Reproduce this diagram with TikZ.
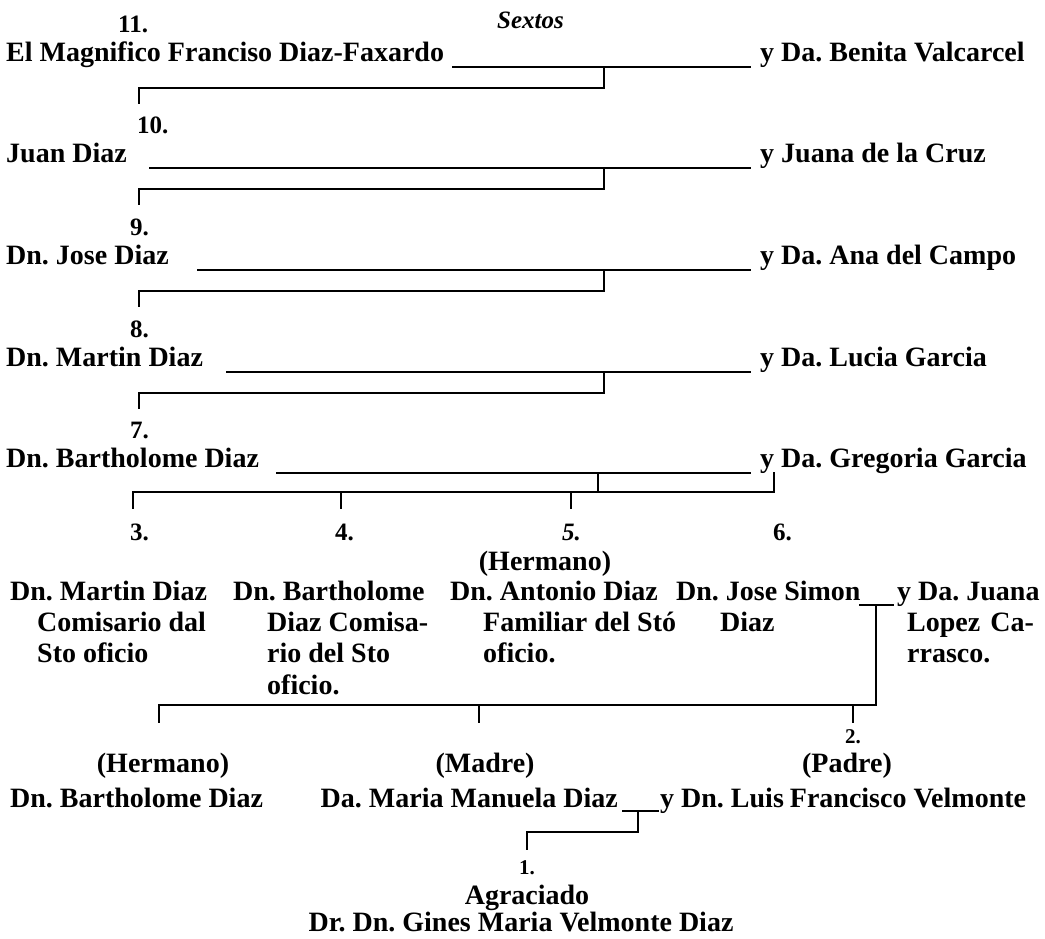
\documentclass[tikz,border=0pt]{standalone}
\usepackage{fontspec}
\setmainfont{Liberation Serif}
\frenchspacing

\tikzset{
  person/.style={inner sep=0pt, anchor=base west, font=\fontsize{28}{32}\selectfont\bfseries},
  genno/.style={inner sep=0pt, anchor=base west, font=\fontsize{25}{29}\selectfont\bfseries},
  smallno/.style={inner sep=0pt, anchor=base, font=\fontsize{21}{25}\selectfont\bfseries},
  link/.style={line width=1.6pt, line cap=rect},
}

\begin{document}
\begin{tikzpicture}[x=1pt, y=-1pt]
    \useasboundingbox (0,0) rectangle (1045,938);

    % Heading
    \node[genno, font=\fontsize{25}{29}\selectfont\bfseries\itshape] (sextos) at (497,28) {Sextos};

    % Generations 11 to 7 (husband ____ y wife)
    \foreach \g/\yy/\nx/\husb/\ux/\wife in {
        11/61/118/El Magnifico Franciso Diaz-Faxardo/453/y Da. Benita Valcarcel,
        10/162/137/Juan Diaz/150/y Juana de la Cruz,
        9/264/130/Dn. Jose Diaz/198/y Da. Ana del Campo,
        8/366/130/Dn. Martin Diaz/227/y Da. Lucia Garcia,
        7/467/130/Dn. Bartholome Diaz/277/y Da. Gregoria Garcia} {
        \node[genno] (n\g) at (\nx,\yy-29) {\g.};
        \node[person] (h\g) at (6,\yy) {\husb};
        \node[person] (w\g) at (760,\yy) {\wife};
        \coordinate (ua\g) at (\ux,\yy+6);
        \coordinate (ub\g) at (750,\yy+6);
        \draw[link] (ua\g) -- (ub\g);
    }

    % Descent brackets 11 -> 8
    \foreach \g/\yy in {11/61, 10/162, 9/264, 8/366} {
        \coordinate (m\g) at (604,\yy+6);
        \coordinate (k\g) at (139,\yy+27);
        \draw[link] (m\g) |- (k\g) -- ++(0,15);
    }

    % Children of 7
    \coordinate (m7) at (598,473);
    \coordinate (y7) at (774,473);
    \coordinate (bar7l) at (133,492);
    \coordinate (bar7r) at (774,492);
    \draw[link] (y7) -- (bar7r) -- (bar7l);
    \draw[link] (m7) -- (m7 |- bar7l);
    \foreach \x in {133, 341, 571} {
        \draw[link] (\x,492) -- ++(0,16);
    }

    \node[genno] (n3) at (130,540) {3.};
    \node[genno] (n4) at (335,540) {4.};
    \node[genno, font=\fontsize{25}{29}\selectfont\bfseries\itshape] (n5) at (562,540) {5.};
    \node[genno] (n6) at (773,540) {6.};
    \node[person, anchor=base] (herm5) at (545,570) {(Hermano)};

    % 3.
    \node[person] (c3a) at (10,600) {Dn. Martin Diaz};
    \node[person] (c3b) at (37,631) {Comisario dal};
    \node[person] (c3c) at (37,662) {Sto oficio};
    % 4.
    \node[person] (c4a) at (233,600) {Dn. Bartholome};
    \node[person] (c4b) at (267,631) {Diaz Comisa-};
    \node[person] (c4c) at (267,662) {rio del Sto};
    \node[person] (c4d) at (267,694) {oficio.};
    % 5.
    \node[person] (c5a) at (450,600) {Dn. Antonio Diaz};
    \node[person] (c5b) at (483,631) {Familiar del Stó};
    \node[person] (c5c) at (483,662) {oficio.};
    % 6. and wife
    \node[person] (c6a) at (676,600) {Dn. Jose Simon};
    \node[person] (c6b) at (720,631) {Diaz};
    \node[person] (w6a) at (897,600) {y Da. Juana};
    \node[person] (w6b) at (907,631) {Lopez\hspace{10pt}Ca-};
    \node[person] (w6c) at (907,662) {rrasco.};
    \coordinate (ua6) at (860,605);
    \coordinate (ub6) at (893,605);
    \draw[link] (ua6) -- (ub6);

    % Children of 6
    \coordinate (m6) at (876,605);
    \coordinate (bar6l) at (159,705);
    \coordinate (bar6r) at (876,705);
    \draw[link] (m6) -- (bar6r) -- (bar6l);
    \foreach \x in {159, 479, 853} {
        \draw[link] (\x,705) -- ++(0,17);
    }

    \node[smallno] (n2) at (853,743) {2.};
    \node[person, anchor=base] (herm2) at (163,772) {(Hermano)};
    \node[person, anchor=base] (madre) at (485,772) {(Madre)};
    \node[person, anchor=base] (padre) at (847,772) {(Padre)};

    \node[person] (bro) at (10,807) {Dn. Bartholome Diaz};
    \node[person, anchor=base east] (mother) at (618,807) {Da. Maria Manuela Diaz};
    \node[person] (father) at (660,807) {y Dn. Luis\hspace{6pt}Francisco Velmonte};
    \coordinate (ua2) at (623,811);
    \coordinate (ub2) at (658,811);
    \draw[link] (ua2) -- (ub2);

    % Agraciado
    \coordinate (m2) at (638,811);
    \coordinate (k1) at (527,832);
    \draw[link] (m2) |- (k1) -- ++(0,17);
    \node[smallno] (n1) at (527,874) {1.};
    \node[person, anchor=base] (agr) at (527,904) {Agraciado};
    \node[person, anchor=base] (self) at (521,931) {Dr. Dn. Gines Maria Velmonte Diaz};
\end{tikzpicture}
\end{document}
